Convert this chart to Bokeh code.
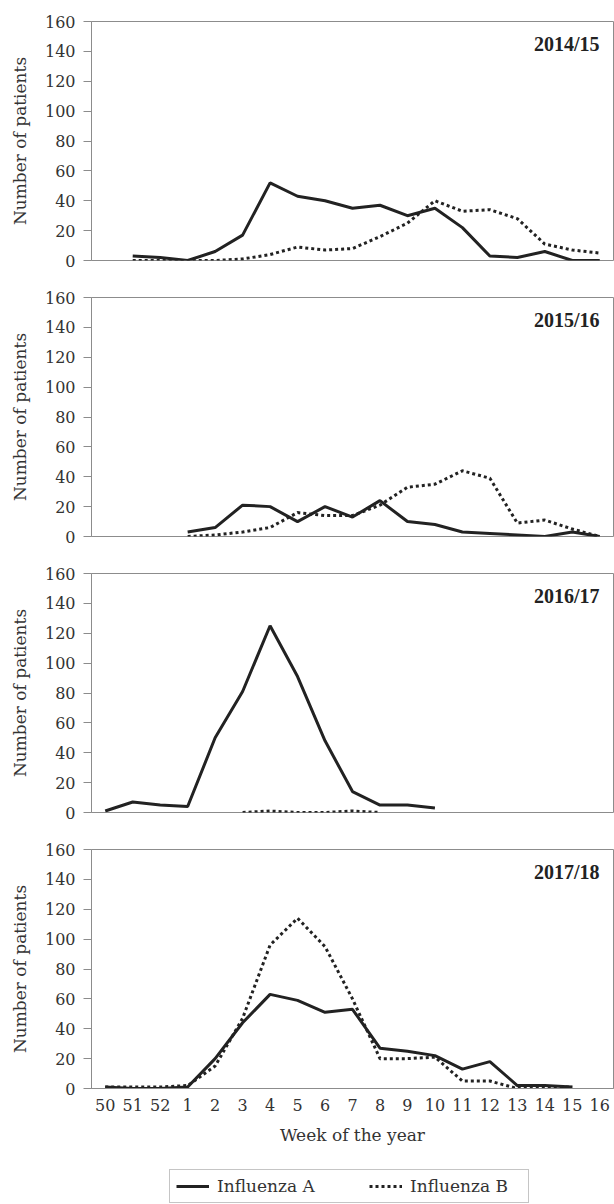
from bokeh.plotting import figure
from bokeh.models import FactorRange, Range1d, FixedTicker, Label, Legend, LegendItem
from bokeh.layouts import column
from bokeh.embed import file_html
from bokeh.resources import INLINE

weeks = ["50", "51", "52", "1", "2", "3", "4", "5", "6", "7", "8", "9",
         "10", "11", "12", "13", "14", "15", "16"]

seasons = ["2014/15", "2015/16", "2016/17", "2017/18"]

flu_a_2014 = [None, 3, 2, 0, 6, 17, 52, 43, 40, 35, 37, 30, 35, 22, 3, 2, 6, 0, 0]
flu_b_2014 = [None, 0, 0, 0, 0, 1, 4, 9, 7, 8, 16, 25, 40, 33, 34, 28, 11, 7, 5]

flu_a_2015 = [None, None, None, 3, 6, 21, 20, 10, 20, 13, 24, 10, 8, 3, 2, 1, 0, 3, 0]
flu_b_2015 = [None, None, None, 0, 1, 3, 6, 16, 14, 14, 21, 33, 35, 44, 39, 9, 11, 5, 0]

flu_a_2016 = [1, 7, 5, 4, 50, 81, 125, 91, 48, 14, 5, 5, 3, None, None, None, None, None, None]
flu_b_2016 = [None, None, None, None, None, 0, 1, 0, 0, 1, 0, None, None, None, None, None, None, None, None]

flu_a_2017 = [1, 0, 0, 1, 20, 44, 63, 59, 51, 53, 27, 25, 22, 13, 18, 2, 2, 1, None]
flu_b_2017 = [1, 1, 1, 2, 15, 47, 96, 114, 95, 60, 20, 20, 21, 5, 5, 0, 1, 1, None]

y_ticks = [0, 20, 40, 60, 80, 100, 120, 140, 160]
legend_labels = ["Influenza A", "Influenza B"]

GRAY = "#8c8c8c"
INK = "#222222"
TXT = "#333333"
FONT = "DejaVu Serif"


def pts(vals):
    xs = [w for w, v in zip(weeks, vals) if v is not None]
    ys = [v for v in vals if v is not None]
    return xs, ys


def make_fig(season, a, b, top, bottom):
    p = figure(x_range=FactorRange(factors=weeks), y_range=Range1d(0, 160),
               frame_width=522, frame_height=239,
               output_backend="svg", toolbar_location=None,
               min_border_left=91, min_border_right=1,
               min_border_top=21 if top else 13,
               min_border_bottom=72 if bottom else 24)
    p.grid.visible = False
    p.outline_line_color = GRAY
    p.outline_line_width = 1
    p.background_fill_color = "white"
    p.border_fill_color = "white"

    xa, ya = pts(a)
    xb, yb = pts(b)
    p.line(xa, ya, line_color=INK, line_width=3)
    p.line(xb, yb, line_color=INK, line_width=3, line_dash="3 3")

    yax = p.yaxis[0]
    yax.ticker = FixedTicker(ticks=y_ticks)
    yax.axis_line_color = GRAY
    yax.major_tick_line_color = GRAY
    yax.major_tick_out = 8
    yax.major_tick_in = 0
    yax.minor_tick_line_color = None
    yax.major_label_standoff = 8
    yax.major_label_text_font = FONT
    yax.major_label_text_font_size = "16px"
    yax.major_label_text_color = TXT
    yax.axis_label = "Number of patients"
    yax.axis_label_text_font = FONT
    yax.axis_label_text_font_size = "17px"
    yax.axis_label_text_font_style = "normal"
    yax.axis_label_text_color = TXT
    yax.axis_label_standoff = 12

    xax = p.xaxis[0]
    if bottom:
        xax.axis_line_color = GRAY
        xax.major_tick_line_color = None
        xax.minor_tick_line_color = None
        xax.major_tick_out = 0
        xax.major_tick_in = 0
        xax.major_label_standoff = 10
        xax.major_label_text_font = FONT
        xax.major_label_text_font_size = "16px"
        xax.major_label_text_color = TXT
        xax.axis_label = "Week of the year"
        xax.axis_label_text_font = FONT
        xax.axis_label_text_font_size = "17px"
        xax.axis_label_text_font_style = "normal"
        xax.axis_label_text_color = TXT
        xax.axis_label_standoff = 11
    else:
        xax.visible = False

    lab = Label(x=19, y=160, x_offset=-14, y_offset=-11, text=season,
                text_align="right", text_baseline="top",
                text_font="Liberation Serif", text_font_style="bold",
                text_font_size="20px", text_color=INK)
    p.add_layout(lab)
    return p


p1 = make_fig(seasons[0], flu_a_2014, flu_b_2014, True, False)
p2 = make_fig(seasons[1], flu_a_2015, flu_b_2015, False, False)
p3 = make_fig(seasons[2], flu_a_2016, flu_b_2016, False, False)
p4 = make_fig(seasons[3], flu_a_2017, flu_b_2017, False, True)

# legend strip below the last panel (its own frame is aligned with the panels)
pl = figure(frame_width=522, height=44, x_range=FactorRange(factors=weeks),
            y_range=Range1d(1000, 1001),
            output_backend="svg", toolbar_location=None,
            x_axis_location=None, y_axis_location=None,
            min_border_left=91, min_border_right=1, min_border_top=0, min_border_bottom=0)
pl.grid.visible = False
pl.outline_line_color = None
xa, ya = pts(flu_a_2017)
xb, yb = pts(flu_b_2017)
la = pl.line(xa, ya, line_color=INK, line_width=3)
lb = pl.line(xb, yb, line_color=INK, line_width=3, line_dash="3 3")
legend = Legend(items=[LegendItem(label=legend_labels[0], renderers=[la]),
                       LegendItem(label=legend_labels[1], renderers=[lb])],
                orientation="horizontal", location=(78, 1),
                border_line_color=GRAY, border_line_width=1,
                label_text_font=FONT, label_text_font_size="17px",
                label_text_color=TXT, glyph_width=33, glyph_height=16,
                label_width=112, label_standoff=8, spacing=40,
                padding=6, margin=0, background_fill_alpha=1.0)
pl.add_layout(legend, "center")

layout = column(p1, p2, p3, p4, pl, spacing=0)

open("out.html", "w").write(file_html(layout, INLINE))
